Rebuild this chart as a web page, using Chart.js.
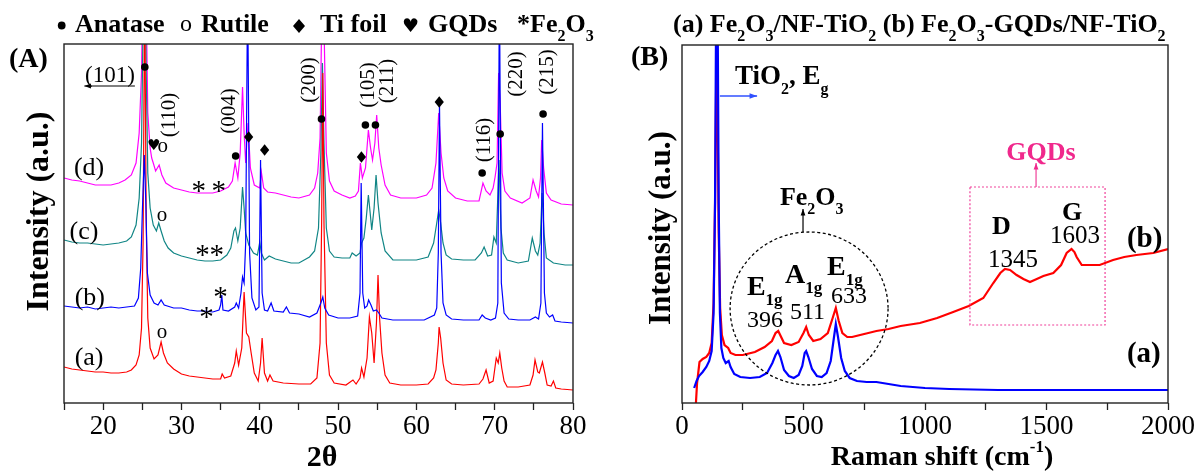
<!DOCTYPE html>
<html>
<head>
<meta charset="utf-8">
<script src="https://cdn.jsdelivr.net/npm/chart.js@4.4.0/dist/chart.umd.min.js"></script>
<style>
  html, body { margin: 0; padding: 0; background: #fff; }
  #wrap { position: relative; width: 1198px; height: 473px; overflow: hidden; }
  canvas { position: absolute; top: 0; }
  #xrd { left: 0; }
  #raman { left: 600px; }
</style>
</head>
<body>
<div id="wrap">
  <canvas id="xrd" width="600" height="473"></canvas>
  <canvas id="raman" width="598" height="473"></canvas>
</div>
<script>
var SERIF = '"Liberation Serif", "Times New Roman", serif';

// (A) XRD, [2theta, intensity] - traces are offset by hand like in the figure
var xrdRed = [[15,36],[16,34],[17,33],[18,32],[19,31],[20,31],[21,30],[22,30],[23,31],[23.6,33],[24.2,38],[24.6,48],[24.9,75],[25.1,160],[25.3,420],[25.5,180],[25.7,85],[26.0,55],[26.5,44],[27.0,48],[27.4,61],[27.7,50],[28.2,40],[29,34],[30,29],[31,27],[32,26],[33,25],[34,24],[35,24],[35.2,29],[35.5,25],[36.3,27],[36.8,40],[37.0,52],[37.3,38],[37.7,55],[38.0,111],[38.3,70],[38.6,66],[38.9,50],[39.3,30],[39.8,22],[40.1,40],[40.3,65],[40.6,30],[41.0,22],[41.3,28],[41.7,22],[43,20],[45,19],[46.5,19],[47.3,25],[47.7,60],[47.9,180],[48.05,330],[48.2,180],[48.5,60],[48.9,28],[49.5,20],[51,18],[51.9,23],[52.3,19],[52.8,25],[53.0,35],[53.3,26],[53.7,45],[54.0,86],[54.3,70],[54.6,40],[54.9,80],[55.1,128],[55.3,85],[55.6,50],[56.0,28],[56.6,20],[58,18],[60,18],[61.5,19],[62.2,25],[62.5,33],[62.8,60],[62.9,76],[63.1,65],[63.4,40],[63.8,23],[64.5,19],[66,18],[68,19],[68.5,24],[68.9,33],[69.3,20],[69.8,22],[70.2,45],[70.45,40],[70.65,50],[70.9,35],[71.2,22],[71.6,16],[73,16],[74.5,18],[74.9,28],[75.15,43],[75.5,31],[75.7,30],[76.1,41],[76.4,30],[76.7,18],[77.2,17],[77.5,22],[77.8,15],[78.5,14],[80,13]];
var xrdBlue = [[15,97],[16,96],[17,95],[18,96],[19,94],[20,95],[21,96],[22,95],[23,96],[24,97],[24.5,105],[24.8,135],[25.0,190],[25.25,248],[25.45,200],[25.65,130],[26.0,108],[26.5,100],[27.0,98],[27.4,103],[27.8,98],[29,95],[30,95],[31,93],[32,92],[33,92],[34,91],[34.8,93],[35.0,98],[35.15,108],[35.3,93],[36,92],[36.8,96],[37.0,100],[37.3,95],[37.6,110],[37.8,126],[38.0,120],[38.2,160],[38.45,420],[38.7,150],[39.0,105],[39.5,93],[39.9,96],[40.1,243],[40.3,110],[40.6,93],[41.0,92],[41.45,100],[41.8,92],[43.0,91],[43.4,96],[43.8,90],[45,89],[46.35,86],[47.3,90],[47.8,100],[48.05,106],[48.3,95],[48.8,88],[50,85],[51.5,85],[52.5,87],[52.8,110],[52.95,220],[53.15,110],[53.4,95],[53.7,97],[53.9,103],[54.2,98],[54.5,92],[54.9,93],[55.2,90],[55.6,85],[57,83],[59,83],[61,83],[62.3,88],[62.6,95],[62.8,150],[62.95,300],[63.15,150],[63.4,100],[63.8,88],[64.5,84],[66,83],[68,83],[68.4,88],[68.8,85],[69.5,83],[70.1,85],[70.4,100],[70.6,420],[70.85,120],[71.2,90],[71.8,84],[73,83],[74.5,83],[75.2,86],[75.6,84],[75.9,100],[76.1,280],[76.35,110],[76.6,90],[77.0,86],[77.4,88],[77.7,82],[78.5,81],[80,80]];
var xrdTeal = [[15,163],[16,161],[17,160],[18,160],[19,159],[20,158],[21,159],[22,160],[23,162],[23.6,166],[24.2,178],[24.6,205],[24.9,260],[25.1,380],[25.3,480],[25.5,330],[25.7,230],[26.0,195],[26.4,178],[26.8,172],[27.1,180],[27.4,172],[27.8,162],[28.3,155],[29,150],[30,147],[31,145],[32,143],[33,142],[34,142],[35,143],[35.8,148],[36.3,155],[36.7,172],[36.9,175],[37.2,162],[37.5,175],[37.8,216],[38.0,195],[38.2,170],[38.6,158],[39.2,150],[39.7,148],[40.0,161],[40.2,150],[40.6,143],[41.2,147],[42,144],[43,142],[44,140],[45,140],[46.35,146],[47.0,152],[47.5,175],[47.8,250],[48.0,340],[48.2,260],[48.5,175],[48.9,152],[49.5,146],[50.5,145],[51.5,145],[51.8,150],[52.3,147],[52.8,150],[53.0,160],[53.3,165],[53.6,185],[53.87,208],[54.1,190],[54.3,173],[54.6,195],[54.85,228],[55.1,200],[55.5,170],[56.0,152],[57,143],[58,143],[60,143],[61.5,146],[62.2,160],[62.6,180],[62.85,193],[63.1,180],[63.4,160],[63.8,148],[64.5,144],[66,143],[67.5,143],[68.3,150],[68.65,156],[69.1,147],[69.6,148],[69.9,166],[70.2,160],[70.55,243],[70.8,175],[71.1,150],[71.6,143],[73,140],[74.3,142],[74.8,165],[75.2,152],[75.5,148],[75.8,160],[76.05,210],[76.3,170],[76.6,145],[77.5,140],[79,138],[80,138]];
var xrdMagenta = [[15,225],[16,223],[17,222],[18,220],[19,218],[20,218],[21,218],[22,220],[22.8,223],[23.6,228],[24.2,240],[24.6,270],[24.9,330],[25.1,440],[25.3,500],[25.5,400],[25.7,290],[26.0,255],[26.2,245],[26.4,240],[26.7,232],[27.15,238],[27.5,228],[28.0,220],[29,215],[30,213],[31,211],[32,210],[33,210],[34,210],[35,212],[36,216],[36.5,222],[36.85,240],[37.2,225],[37.5,250],[37.8,316],[38.0,270],[38.2,240],[38.5,280],[38.8,235],[39.3,218],[40.0,215],[40.2,231],[40.5,215],[41,211],[42,210],[43,208],[44,206],[45,205],[46.35,208],[47.0,215],[47.4,230],[47.7,265],[47.9,380],[48.05,500],[48.2,380],[48.5,250],[48.9,222],[49.5,212],[50.5,208],[51.5,205],[52.2,207],[52.6,212],[52.85,240],[53.1,225],[53.5,235],[53.87,273],[54.15,255],[54.4,243],[54.7,260],[54.93,288],[55.2,255],[55.5,238],[56.0,218],[56.7,208],[58,205],[60,205],[61.3,208],[62.0,215],[62.5,240],[62.85,290],[63.15,250],[63.5,225],[64,212],[65,205],[66.5,202],[68,202],[68.5,220],[68.9,212],[69.4,208],[69.8,215],[70.05,226],[70.3,240],[70.5,330],[70.7,300],[70.95,230],[71.3,212],[72,205],[73.5,200],[74.5,205],[74.9,223],[75.3,212],[75.6,206],[75.85,225],[76.0,263],[76.25,235],[76.6,210],[77.2,203],[78.5,199],[80,198]];
var xrdTicks = [15,20,25,30,35,40,45,50,55,60,65,70,75,80];
var xrdLabels = [20,30,40,50,60,70,80];

// (B) Raman, [shift cm-1, intensity]
var ramanA = [[50,15],[60,22],[70,27],[85,31],[100,36],[112,42],[122,52],[130,90],[136,200],[141,420],[146,420],[151,200],[156,90],[162,55],[170,45],[180,40],[192,42],[200,36],[215,29],[240,26],[280,25],[320,26],[350,30],[372,40],[385,48],[395,52],[405,46],[420,33],[440,27],[460,25],[480,28],[495,37],[505,50],[511,52],[520,46],[535,34],[555,27],[575,26],[595,30],[612,42],[625,65],[633,79],[642,66],[655,45],[670,32],[690,25],[720,22],[760,21],[800,21],[850,19],[900,17],[1000,15],[1100,14],[1300,13],[1500,13],[1700,13],[2000,13]];
var ramanB = [[55,-10],[62,20],[72,41],[85,44],[100,46],[112,50],[122,60],[130,100],[136,200],[141,330],[146,300],[151,170],[157,95],[164,68],[175,58],[190,55],[200,50],[220,48],[250,48],[300,51],[340,56],[370,62],[385,70],[396,72],[408,66],[420,60],[450,58],[480,61],[500,70],[511,76],[522,68],[540,62],[570,64],[600,70],[620,85],[633,95],[645,82],[660,70],[680,66],[700,66],[750,69],[800,72],[850,74],[900,77],[979,80],[1050,85],[1116,91],[1180,97],[1240,105],[1281,120],[1310,130],[1329,134],[1350,133],[1377,128],[1405,124],[1432,121],[1460,124],[1487,127],[1528,130],[1560,138],[1583,150],[1603,154],[1615,151],[1624,146],[1645,138],[1680,138],[1719,138],[1774,143],[1820,146],[1870,148],[1939,150],[2000,154]];
var ramanTicks = [0,250,500,750,1000,1250,1500,1750,2000];
var ramanLabels = [0,500,1000,1500,2000];

// phase markers, in data units
var anataseDots = [[25.32,336],[36.92,247],[47.88,284],[53.49,278],[54.77,278],[68.4,230],[70.7,269],[76.18,289]];
var tiDiamonds = [[38.58,266],[40.62,253],[52.98,246],[62.92,301]];
var rutileMarks = [[27.62,256],[27.5,187],[27.5,70]];
var gqdHearts = [[26.47,257]];
var fe2o3Stars = [[32.2,217],[34.76,217],[32.7,153],[34.5,153],[33.2,91],[35.0,111]];
var planeLabels = [['(110)',28.5,288],['(004)',36.16,292],['(200)',46.35,323],['(105)',53.87,318],['(211)',56.3,322],['(116)',68.66,263],['(220)',72.74,329],['(215)',76.69,331]];
var traceLabels = [['(d)',18.2,235],['(c)',17.55,171],['(b)',18.3,105],['(a)',18.2,45]];

function font(size, bold) { return (bold ? 'bold ' : '') + size + 'px ' + SERIF; }

// draw text with sub/superscripts; parts = [[text, 'sub'|'sup'|undefined], ...]
function rich(ctx, parts, x, y, size, bold, align) {
  var small = Math.round(size * 0.6), w = 0;
  parts.forEach(function (p) { ctx.font = font(p[1] ? small : size, bold); w += ctx.measureText(p[0]).width; });
  var cx = align === 'center' ? x - w / 2 : x;
  ctx.textAlign = 'left';
  ctx.textBaseline = 'alphabetic';
  parts.forEach(function (p) {
    ctx.font = font(p[1] ? small : size, bold);
    var dy = p[1] === 'sub' ? size * 0.36 : (p[1] === 'sup' ? -size * 0.48 : 0);
    ctx.fillText(p[0], cx, y + dy);
    cx += ctx.measureText(p[0]).width;
  });
}

function dot(ctx, x, y, r) { ctx.beginPath(); ctx.arc(x, y, r, 0, Math.PI * 2); ctx.fill(); }
function diamond(ctx, x, y, w, h) {
  ctx.beginPath(); ctx.moveTo(x, y - h); ctx.lineTo(x + w, y); ctx.lineTo(x, y + h); ctx.lineTo(x - w, y); ctx.closePath(); ctx.fill();
}
function arrow(ctx, x1, y1, x2, y2, head) {
  var a = Math.atan2(y2 - y1, x2 - x1);
  ctx.beginPath(); ctx.moveTo(x1, y1); ctx.lineTo(x2, y2); ctx.stroke();
  ctx.beginPath(); ctx.moveTo(x2, y2);
  ctx.lineTo(x2 - head * Math.cos(a - 0.35), y2 - head * Math.sin(a - 0.35));
  ctx.lineTo(x2 - head * Math.cos(a + 0.35), y2 - head * Math.sin(a + 0.35));
  ctx.closePath(); ctx.fill();
}
function vtext(ctx, text, x, y, f, base) {
  ctx.save(); ctx.translate(x, y); ctx.rotate(-Math.PI / 2);
  ctx.font = f; ctx.textAlign = 'center'; ctx.textBaseline = base || 'middle';
  ctx.fillText(text, 0, 0); ctx.restore();
}
function frame(ctx, ca) {
  ctx.strokeStyle = '#222'; ctx.lineWidth = 1.4;
  ctx.strokeRect(ca.left, ca.top, ca.right - ca.left, ca.bottom - ca.top);
}

function drawXrd(chart) {
  var ctx = chart.ctx, ca = chart.chartArea;
  var X = function (v) { return chart.scales.x.getPixelForValue(v); };
  var Y = function (v) { return chart.scales.y.getPixelForValue(v); };
  ctx.save();
  frame(ctx, ca);
  ctx.fillStyle = '#000'; ctx.strokeStyle = '#000';
  anataseDots.forEach(function (p) { dot(ctx, X(p[0]), Y(p[1]), 3.8); });
  tiDiamonds.forEach(function (p) { diamond(ctx, X(p[0]), Y(p[1]), 4.6, 5.8); });
  ctx.textAlign = 'center'; ctx.textBaseline = 'alphabetic';
  ctx.font = font(21, false);
  rutileMarks.forEach(function (p) { ctx.fillText('o', X(p[0]), Y(p[1]) + 5); });
  ctx.font = font(29, false);
  fe2o3Stars.forEach(function (p) { ctx.fillText('*', X(p[0]), Y(p[1]) + 14); });
  ctx.font = '15px "DejaVu Sans"'; ctx.textBaseline = 'middle';
  gqdHearts.forEach(function (p) { ctx.fillText('\u2665', X(p[0]), Y(p[1])); });
  planeLabels.forEach(function (p) { vtext(ctx, p[0], X(p[1]), Y(p[2]), font(21, false)); });
  ctx.font = font(26, false); ctx.textBaseline = 'middle';
  traceLabels.forEach(function (p) { ctx.fillText(p[0], X(p[1]), Y(p[2])); });
  // (101) with left arrow underneath
  ctx.textAlign = 'left'; ctx.textBaseline = 'alphabetic'; ctx.font = font(23, false);
  ctx.fillText('(101)', X(17.68), Y(321));
  ctx.lineWidth = 1.2;
  arrow(ctx, X(24.05), Y(317), X(17.6), Y(317), 7);

  // legend line above the plot
  ctx.fillStyle = '#000';
  dot(ctx, 61.7, 25.5, 3.9);
  rich(ctx, [['Anatase']], 75, 32, 26, true);
  ctx.font = font(24, false); ctx.fillText('o', 180, 31);
  rich(ctx, [['Rutile']], 201, 32, 26, true);
  diamond(ctx, 299, 26, 6, 7);
  rich(ctx, [['Ti foil']], 320, 32, 26, true);
  ctx.font = '19px "DejaVu Sans"'; ctx.textAlign = 'center'; ctx.textBaseline = 'middle';
  ctx.fillText('\u2665', 410.5, 27);
  rich(ctx, [['GQDs']], 428, 32, 26, true);
  rich(ctx, [['*Fe'], ['2', 'sub'], ['O'], ['3', 'sub']], 517, 32, 26, true);

  rich(ctx, [['(A)']], 9, 67, 28, true);
  rich(ctx, [['2\u03b8']], 322, 466, 30, true, 'center');
  ctx.fillStyle = '#000';
  vtext(ctx, 'Intensity (a.u.)', 48, 211.5, font(32, true), 'alphabetic');
  ctx.restore();
}

function drawRaman(chart) {
  var ctx = chart.ctx, ca = chart.chartArea;
  var X = function (v) { return chart.scales.x.getPixelForValue(v); };
  var Y = function (v) { return chart.scales.y.getPixelForValue(v); };
  ctx.save();
  frame(ctx, ca);
  ctx.fillStyle = '#000'; ctx.strokeStyle = '#000';

  rich(ctx, [['TiO'], ['2', 'sub'], [', E'], ['g', 'sub']], X(218), Y(319), 27, true);
  ctx.strokeStyle = '#3050ff'; ctx.fillStyle = '#3050ff'; ctx.lineWidth = 1.6;
  arrow(ctx, X(156), Y(307), X(309), Y(307), 8);

  ctx.fillStyle = '#000'; ctx.strokeStyle = '#000'; ctx.lineWidth = 1.2;
  rich(ctx, [['Fe'], ['2', 'sub'], ['O'], ['3', 'sub']], X(403), Y(198), 26, true);
  arrow(ctx, X(498), Y(171), X(498), Y(194), 7);
  ctx.setLineDash([3, 2.5]); ctx.lineWidth = 1.3;
  ctx.beginPath();
  ctx.ellipse(X(523), Y(94.5), X(523 + 325) - X(523), Y(0) - Y(76.5), 0, 0, Math.PI * 2);
  ctx.stroke();
  ctx.setLineDash([]);

  rich(ctx, [['E'], ['1g', 'sub']], X(267), Y(108), 28, true);
  rich(ctx, [['A'], ['1g', 'sub']], X(424), Y(120), 28, true);
  rich(ctx, [['E'], ['1g', 'sub']], X(597), Y(128), 28, true);
  rich(ctx, [['396']], X(267), Y(76), 24, false);
  rich(ctx, [['511']], X(444), Y(84), 24, false);
  rich(ctx, [['633']], X(613), Y(100), 24, false);

  ctx.strokeStyle = '#f0409a'; ctx.fillStyle = '#f0288c'; ctx.lineWidth = 1.2;
  ctx.setLineDash([2, 2]);
  ctx.strokeRect(X(1185), Y(216), X(1741) - X(1185), Y(78) - Y(216));
  ctx.setLineDash([]);
  arrow(ctx, X(1457), Y(216), X(1457), Y(240), 7);
  rich(ctx, [['GQDs']], X(1477), Y(243), 26, true, 'center');

  ctx.fillStyle = '#000';
  rich(ctx, [['D']], X(1276), Y(169), 26, true);
  rich(ctx, [['1345']], X(1259), Y(136), 25, false);
  rich(ctx, [['G']], X(1564), Y(183), 26, true);
  rich(ctx, [['1603']], X(1514), Y(160), 25, false);
  rich(ctx, [['(b)']], X(1831), Y(156), 29, true);
  rich(ctx, [['(a)']], X(1831), Y(41), 29, true);

  rich(ctx, [['(a) Fe'], ['2', 'sub'], ['O'], ['3', 'sub'], ['/NF-TiO'], ['2', 'sub'], [' (b) Fe'], ['2', 'sub'], ['O'], ['3', 'sub'], ['-GQDs/NF-TiO'], ['2', 'sub']], 73, 32, 26, true);
  rich(ctx, [['(B)']], 31, 65, 28, true);
  rich(ctx, [['Raman shift (cm'], ['-1', 'sup'], [')']], 342, 465, 28, true, 'center');
  ctx.fillStyle = '#000';
  vtext(ctx, 'Intensity (a.u.)', 70, 228, font(31, true), 'alphabetic');
  ctx.restore();
}

function line(pts, color, width) {
  return {
    data: pts.map(function (p) { return { x: p[0], y: p[1] }; }),
    borderColor: color, borderWidth: width, pointRadius: 0, fill: false, tension: 0
  };
}

function makeChart(id, sets, xmin, xmax, ymax, ticks, labels, pad, deco) {
  return new Chart(document.getElementById(id), {
    type: 'line',
    data: { datasets: sets },
    options: {
      responsive: false, animation: false, events: [], devicePixelRatio: 1,
      layout: { padding: pad },
      plugins: { legend: { display: false }, tooltip: { enabled: false } },
      scales: {
        x: {
          type: 'linear', min: xmin, max: xmax,
          afterBuildTicks: function (s) { s.ticks = ticks.map(function (v) { return { value: v }; }); },
          afterFit: function (s) { s.height = 70; },
          ticks: {
            autoSkip: false, maxRotation: 0, padding: 1, color: '#000',
            font: { family: SERIF, size: 27 },
            callback: function (v) { return labels.indexOf(v) >= 0 ? String(v) : ''; }
          },
          grid: { drawOnChartArea: false, drawTicks: true, tickLength: 7, tickColor: '#222', tickWidth: 1.3 },
          border: { display: false }
        },
        y: { display: false, min: 0, max: ymax }
      }
    },
    plugins: [{ id: 'deco', afterDraw: deco }]
  });
}

makeChart('xrd', [
  line(xrdBlue, '#0000ff', 1.2),
  line(xrdRed, '#ff0000', 1.2),
  line(xrdTeal, '#108585', 1.2),
  line(xrdMagenta, '#ff00ff', 1.2)
], 15, 80, 359, xrdTicks, xrdLabels, { left: 64, right: 27, top: 44, bottom: 0 }, drawXrd);

makeChart('raman', [
  line(ramanA, '#0000ff', 2.2),
  line(ramanB, '#ff0000', 2.2)
], 0, 2000, 358, ramanTicks, ramanLabels, { left: 82, right: 30, top: 45, bottom: 0 }, drawRaman);
</script>
</body>
</html>
